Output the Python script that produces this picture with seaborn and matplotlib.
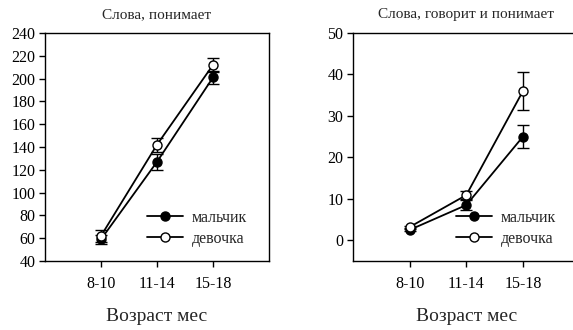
import numpy as np
import pandas as pd
import matplotlib
matplotlib.use("Agg")
import matplotlib.pyplot as plt
import seaborn as sns

categories = ["8-10", "11-14", "15-18"]
groups = ["мальчик", "девочка"]

# Panel 1: Слова, понимает
p1_boys = [59, 127, 201]
p1_boys_err = [4, 7, 5.5]
p1_girls = [62, 142, 212]
p1_girls_err = [5, 6, 6.5]

# Panel 2: Слова, говорит и понимает
p2_boys = [2.5, 8.5, 25.0]
p2_boys_err = [0.3, 1.1, 2.8]
p2_girls = [3.2, 10.9, 36.0]
p2_girls_err = [0.3, 1.0, 4.6]

titles = ["Слова, понимает", "Слова, говорит и понимает"]
xlabel = "Возраст мес"

sns.set_style("ticks")
plt.rcParams["font.family"] = ["Liberation Serif", "DejaVu Serif"]

fig = plt.figure(figsize=(5.73, 3.30), dpi=100)
W, H = 573, 330
ax1 = fig.add_axes([45 / W, (H - 261) / H, 224 / W, 228 / H])
ax2 = fig.add_axes([353 / W, (H - 261) / H, 226.6 / W, 228 / H])

panels = [
    (ax1, p1_boys, p1_boys_err, p1_girls, p1_girls_err, (40, 240), np.arange(40, 241, 20)),
    (ax2, p2_boys, p2_boys_err, p2_girls, p2_girls_err, (-5, 50), np.arange(0, 51, 10)),
]

xpos = np.arange(1, len(categories) + 1)

for i, (ax, b, be, g, ge, ylim, yt) in enumerate(panels):
    df = pd.DataFrame({
        "x": np.concatenate([xpos, xpos]),
        "y": b + g,
        "group": [groups[0]] * 3 + [groups[1]] * 3,
    })
    for grp, vals, errs, fc in [(groups[0], b, be, "black"), (groups[1], g, ge, "white")]:
        sub = df[df["group"] == grp]
        ax.errorbar(sub["x"], sub["y"], yerr=errs, fmt="none", ecolor="black",
                    elinewidth=1.0, capsize=4.5, capthick=1.0, zorder=2)
        sns.lineplot(data=sub, x="x", y="y", ax=ax, color="black", linewidth=1.3,
                     marker="o", markersize=6.5, markerfacecolor=fc,
                     markeredgecolor="black", markeredgewidth=1.0, label=grp,
                     zorder=3 if fc == "black" else 4)
    ax.set_xlim(0, 4)
    ax.set_ylim(*ylim)
    ax.set_yticks(yt)
    ax.set_xticks(xpos)
    ax.set_xticklabels(categories)
    ax.tick_params(axis="both", direction="out", length=4, width=1.0, labelsize=11.5, colors="black")
    ax.tick_params(axis="x", pad=7)
    ax.tick_params(axis="y", pad=3)
    for s in ax.spines.values():
        s.set_linewidth(1.0)
        s.set_color("black")
    ax.set_title(titles[i], fontsize=11, pad=11)
    ax.set_xlabel(xlabel, fontsize=14, labelpad=11)
    ax.set_ylabel("")
    ax.legend(loc="center left", bbox_to_anchor=(0.455, 0.143),
              frameon=False, fontsize=11.5, handlelength=2.25, handletextpad=0.55,
              labelspacing=0.3, borderaxespad=0, borderpad=0)

fig.savefig("out.png", dpi=100)
